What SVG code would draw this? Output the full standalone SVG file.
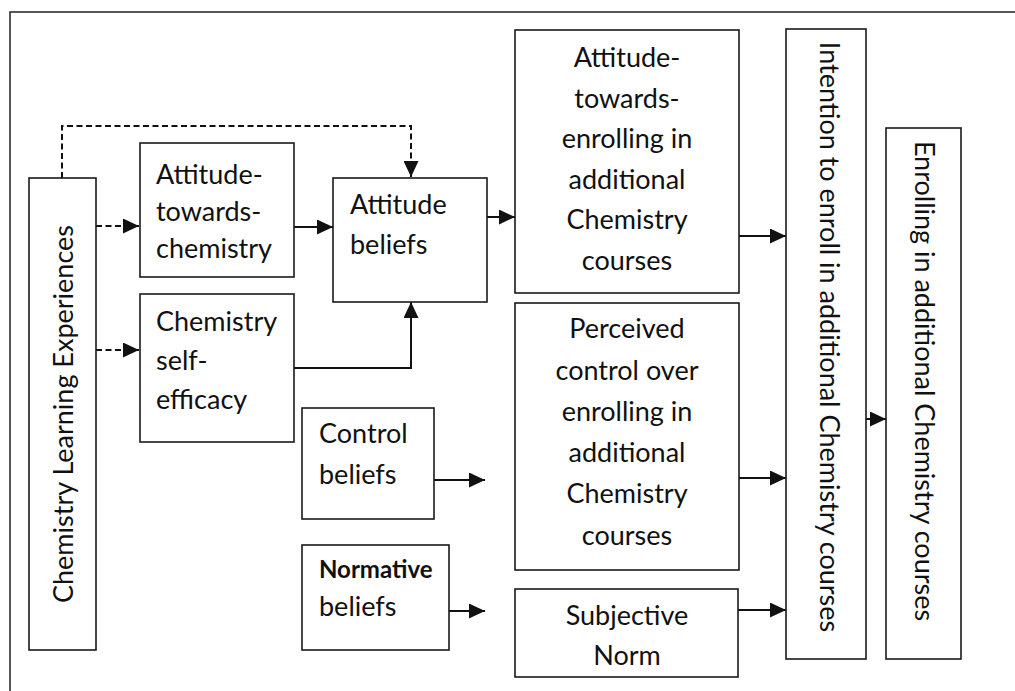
<svg xmlns="http://www.w3.org/2000/svg" width="1015" height="691" viewBox="0 0 1015 691">
  <style>
    .frame { fill: none; stroke: #222; stroke-width: 1.5; }
    .box { fill: #fff; stroke: #1a1a1a; stroke-width: 1.6; }
    .lbl { font-family: Lato, "Liberation Sans", sans-serif; font-size: 27px; fill: #111; }
    .mid { text-anchor: middle; }
    .bold { font-weight: bold; font-size: 24px; }
    .link { fill: none; stroke: #111; stroke-width: 2; }
    .dash { stroke-dasharray: 6 3.5; }
  </style>
  <defs>
    <marker id="arrow" markerUnits="userSpaceOnUse" markerWidth="17" markerHeight="15" refX="16" refY="7.5" orient="auto">
      <path d="M0,0 L16,7.5 L0,15 Z" fill="#111"/>
    </marker>
  </defs>

  <rect width="1015" height="691" fill="#fff"/>

  <!-- outer frame: top and left edges only -->
  <path class="frame" d="M10,691 V12 H1015"/>

  <!-- connectors -->
  <g id="connectors">
    <path class="link dash" d="M62,178 V126 H411 V177" marker-end="url(#arrow)"/>
    <path class="link dash" d="M96,226 H139" marker-end="url(#arrow)"/>
    <path class="link dash" d="M96,350 H139" marker-end="url(#arrow)"/>
    <path class="link" d="M294,227 H333" marker-end="url(#arrow)"/>
    <path class="link" d="M294,368 H411 V302" marker-end="url(#arrow)"/>
    <path class="link" d="M487,217 H515" marker-end="url(#arrow)"/>
    <path class="link" d="M739,236 H786" marker-end="url(#arrow)"/>
    <path class="link" d="M434,480 H485" marker-end="url(#arrow)"/>
    <path class="link" d="M449,611 H485" marker-end="url(#arrow)"/>
    <path class="link" d="M739,478 H786" marker-end="url(#arrow)"/>
    <path class="link" d="M738,610 H786" marker-end="url(#arrow)"/>
    <path class="link" d="M852,419 H886" marker-end="url(#arrow)"/>
  </g>

  <g id="learning-experiences">
    <rect class="box" x="29" y="178" width="67" height="472"/>
    <text class="lbl mid" transform="translate(73,414) rotate(-90)">Chemistry Learning Experiences</text>
  </g>

  <g id="attitude-towards-chemistry">
    <rect class="box" x="140" y="143" width="154" height="134"/>
    <text class="lbl" x="156" y="184">Attitude-</text>
    <text class="lbl" x="156" y="221">towards-</text>
    <text class="lbl" x="156" y="258">chemistry</text>
  </g>

  <g id="self-efficacy">
    <rect class="box" x="140" y="294" width="154" height="148"/>
    <text class="lbl" x="156" y="331">Chemistry</text>
    <text class="lbl" x="156" y="370">self-</text>
    <text class="lbl" x="156" y="409">efficacy</text>
  </g>

  <g id="attitude-beliefs">
    <rect class="box" x="333" y="178" width="154" height="124"/>
    <text class="lbl" x="350" y="214">Attitude</text>
    <text class="lbl" x="350" y="254">beliefs</text>
  </g>

  <g id="control-beliefs">
    <rect class="box" x="302" y="408" width="132" height="111"/>
    <text class="lbl" x="319" y="443">Control</text>
    <text class="lbl" x="319" y="484">beliefs</text>
  </g>

  <g id="normative-beliefs">
    <rect class="box" x="302" y="545" width="147" height="105"/>
    <text class="lbl bold" x="319" y="578">Normative</text>
    <text class="lbl" x="319" y="616">beliefs</text>
  </g>

  <g id="attitude-towards-enrolling">
    <rect class="box" x="515" y="30" width="224" height="263"/>
    <text class="lbl mid" x="627" y="67">Attitude-</text>
    <text class="lbl mid" x="627" y="108">towards-</text>
    <text class="lbl mid" x="627" y="148">enrolling in</text>
    <text class="lbl mid" x="627" y="189">additional</text>
    <text class="lbl mid" x="627" y="229">Chemistry</text>
    <text class="lbl mid" x="627" y="270">courses</text>
  </g>

  <g id="perceived-control">
    <rect class="box" x="515" y="303" width="224" height="267"/>
    <text class="lbl mid" x="627" y="338">Perceived</text>
    <text class="lbl mid" x="627" y="380">control over</text>
    <text class="lbl mid" x="627" y="421">enrolling in</text>
    <text class="lbl mid" x="627" y="462">additional</text>
    <text class="lbl mid" x="627" y="503">Chemistry</text>
    <text class="lbl mid" x="627" y="545">courses</text>
  </g>

  <g id="subjective-norm">
    <rect class="box" x="515" y="589" width="223" height="88"/>
    <text class="lbl mid" x="627" y="625">Subjective</text>
    <text class="lbl mid" x="627" y="665">Norm</text>
  </g>

  <g id="intention">
    <rect class="box" x="786" y="29" width="80" height="630"/>
    <text class="lbl mid" transform="translate(820,337) rotate(90)">Intention to enroll in additional Chemistry courses</text>
  </g>

  <g id="enrolling">
    <rect class="box" x="886" y="128" width="75" height="531"/>
    <text class="lbl mid" transform="translate(915,381) rotate(90)">Enrolling in additional Chemistry courses</text>
  </g>
</svg>
